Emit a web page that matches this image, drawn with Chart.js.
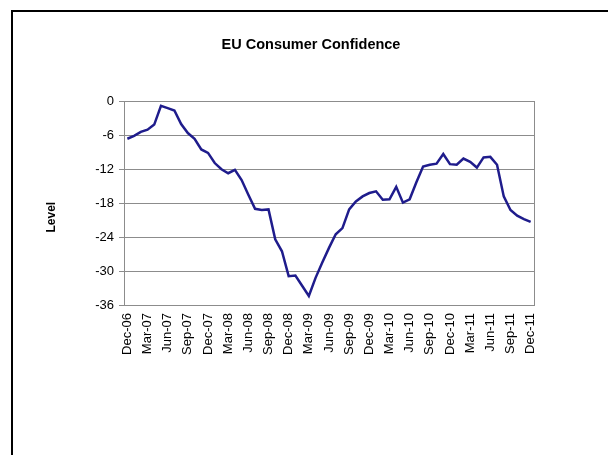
<!DOCTYPE html>
<html>
<head>
<meta charset="utf-8">
<title>EU Consumer Confidence</title>
<script src="https://cdn.jsdelivr.net/npm/chart.js@4.4.0/dist/chart.umd.min.js"></script>
<style>
  html, body { margin: 0; padding: 0; background: #fff; overflow: hidden; }
  #wrap { position: relative; width: 608px; height: 455px; }
  #frame {
    position: absolute; left: 11px; top: 10px; width: 700px; height: 600px;
    border-left: 2px solid #000; border-top: 2px solid #000; pointer-events: none;
  }
</style>
</head>
<body>
<div id="wrap">
  <canvas id="myChart" width="608" height="455"></canvas>
  <div id="frame"></div>
</div>
<script>
// monthly readings, Dec-06 .. Dec-11
const months = [
  'Dec-06',
  'Jan-07', 'Feb-07', 'Mar-07', 'Apr-07', 'May-07', 'Jun-07', 'Jul-07', 'Aug-07', 'Sep-07', 'Oct-07', 'Nov-07', 'Dec-07',
  'Jan-08', 'Feb-08', 'Mar-08', 'Apr-08', 'May-08', 'Jun-08', 'Jul-08', 'Aug-08', 'Sep-08', 'Oct-08', 'Nov-08', 'Dec-08',
  'Jan-09', 'Feb-09', 'Mar-09', 'Apr-09', 'May-09', 'Jun-09', 'Jul-09', 'Aug-09', 'Sep-09', 'Oct-09', 'Nov-09', 'Dec-09',
  'Jan-10', 'Feb-10', 'Mar-10', 'Apr-10', 'May-10', 'Jun-10', 'Jul-10', 'Aug-10', 'Sep-10', 'Oct-10', 'Nov-10', 'Dec-10',
  'Jan-11', 'Feb-11', 'Mar-11', 'Apr-11', 'May-11', 'Jun-11', 'Jul-11', 'Aug-11', 'Sep-11', 'Oct-11', 'Nov-11', 'Dec-11'
];

const confidence = [
  -6.6, -6.1, -5.4, -5.0, -4.1, -0.8, -1.2, -1.6, -4.0, -5.6,
  -6.6, -8.5, -9.1, -10.9, -12.0, -12.7, -12.1, -13.9, -16.5, -19.0,
  -19.2, -19.1, -24.4, -26.5, -30.9, -30.8, -32.6, -34.4, -31.2, -28.5,
  -25.9, -23.5, -22.4, -19.1, -17.7, -16.8, -16.2, -15.9, -17.4, -17.3,
  -15.1, -17.9, -17.3, -14.3, -11.5, -11.2, -11.0, -9.3, -11.1, -11.2,
  -10.1, -10.7, -11.7, -9.9, -9.8, -11.2, -16.8, -19.2, -20.2, -20.8,
  -21.3
];

const yMin = -36;
const yMax = 0;
const yStep = 6;

const gridGrey = '#8c8c8c';
const fontFamily = '"Liberation Sans", Arial, sans-serif';

// gray box round the plot area + the rotated "Level" label
const plotFrame = {
  id: 'plotFrame',
  afterDraw(chart) {
    const { ctx, chartArea } = chart;
    ctx.save();
    ctx.strokeStyle = gridGrey;
    ctx.lineWidth = 1;
    ctx.strokeRect(Math.round(chartArea.left) + 0.5, Math.round(chartArea.top) + 0.5,
      Math.round(chartArea.width), Math.round(chartArea.height));

    // axis title sits a bit below the middle of the plot
    ctx.translate(chartArea.left - 72, (chartArea.top + chartArea.bottom) / 2 + 14);
    ctx.rotate(-Math.PI / 2);
    ctx.font = 'bold 12px ' + fontFamily;
    ctx.fillStyle = '#000';
    ctx.textAlign = 'center';
    ctx.textBaseline = 'middle';
    ctx.fillText('Level', 0, 0);
    ctx.restore();
  }
};

function initializeChart() {
  const ctx = document.getElementById('myChart').getContext('2d');
  new Chart(ctx, {
    type: 'line',
    data: {
      labels: months,
      datasets: [{
        label: 'EU Consumer Confidence',
        data: confidence,
        borderColor: '#1f1c8c',
        borderWidth: 2.5,
        pointRadius: 0,
        tension: 0,
        fill: false
      }]
    },
    options: {
      responsive: false,
      animation: false,
      layout: { padding: { left: 88, right: 74, top: 0, bottom: 0 } },
      plugins: {
        legend: { display: false },
        tooltip: { enabled: false },
        title: {
          display: true,
          text: 'EU Consumer Confidence',
          color: '#000',
          font: { family: fontFamily, size: 14.5, weight: 'bold' },
          padding: { top: 36, bottom: 48 }
        }
      },
      scales: {
        x: {
          offset: true,
          grid: { display: false, drawTicks: false },
          border: { display: true, color: gridGrey },
          ticks: {
            autoSkip: false,
            minRotation: 90,
            maxRotation: 90,
            padding: 8,
            color: '#000',
            font: { family: fontFamily, size: 13 },
            callback: function (value, index) {
              return index % 3 === 0 ? this.getLabelForValue(value) : null;
            }
          },
          afterFit: function (scale) { scale.height = 150; }
        },
        y: {
          min: yMin,
          max: yMax,
          grid: { color: gridGrey, tickLength: 5 },
          border: { display: true, color: gridGrey },
          ticks: {
            stepSize: yStep,
            padding: 5,
            color: '#000',
            font: { family: fontFamily, size: 13 }
          },
          afterFit: function (scale) { scale.width = 36; }
        }
      }
    },
    plugins: [plotFrame]
  });
}

initializeChart();
</script>
</body>
</html>
